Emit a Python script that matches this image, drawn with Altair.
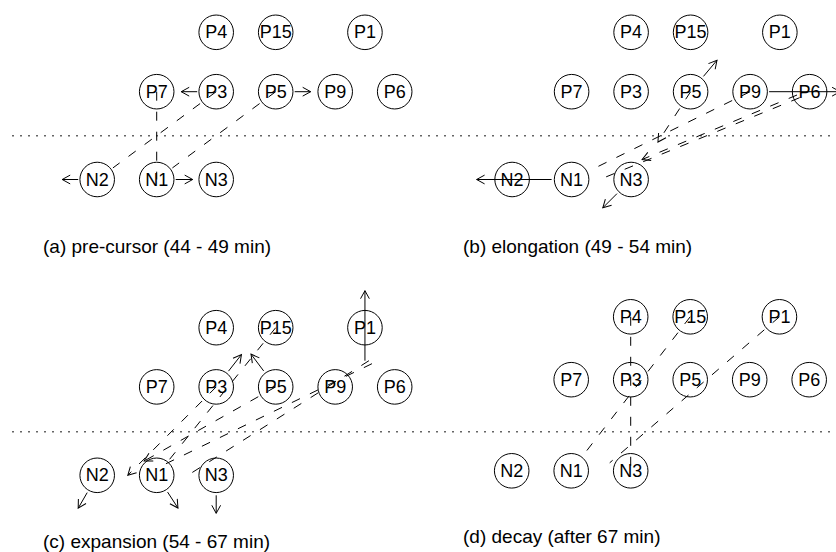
import math
import altair as alt
import pandas as pd

W, H = 836, 552

# ---- nodes: grid column (P7/N1 column = 0) and row (0 = top, 1 = middle, 2 = bottom)
node_names = ["P4", "P15", "P1", "P7", "P3", "P5", "P9", "P6", "N2", "N1", "N3"]
node_cols = [1, 2, 3.5, 0, 1, 2, 3, 4, -1, 0, 1]
node_rows = [0, 0, 0, 1, 1, 1, 1, 1, 2, 2, 2]

panels = ["a", "b", "c", "d"]
captions = [
    "(a) pre-cursor (44 - 49 min)",
    "(b) elongation (49 - 54 min)",
    "(c) expansion (54 - 67 min)",
    "(d) decay (after 67 min)",
]

# ---- links between nodes: (panel, start, end, dashed, arrowhead)
# an end is a node name (centre), (node, "edge") or (node, dx, dy)
links = [
    ("a", "P7", "N1", True, False),
    ("a", "P3", ("N2", "edge"), True, False),
    ("a", "P5", ("N1", "edge"), True, False),
    ("b", "P9", ("N1", "edge"), True, False),
    ("b", ("P6", -12.6, 3.3), ("N3", 11, -20), True, True),
    ("b", ("P6", -10, 6), ("N1", 33, -2), True, False),
    ("c", "P15", ("N1", "edge"), True, False),
    ("c", ("P1", 4, 33), ("N3", -30, 1), True, False),
    ("c", ("P1", 7, 36), ("N1", 6, -10), True, False),
    ("d", "P4", "N3", True, False),
    ("d", "P15", ("N1", "edge"), True, False),
    ("d", "P1", ("N3", -21, -8), True, False),
]

# ---- motion vectors: (panel, node, direction in degrees, from r, to r, dashed, arrowhead)
vectors = [
    ("a", "P3", 180, 19, 35, False, True),
    ("a", "P5", 0, 19, 35, False, True),
    ("a", "N2", 180, 19, 35, False, True),
    ("a", "N1", 0, 19, 36, False, True),
    ("b", "N1", 180, 20, 95, False, True),
    ("b", "N3", 135, 20, 40, False, True),
    ("b", "P5", 310, 20, 41, False, True),
    ("b", "P9", 0, 19, 90, False, True),
    ("b", "P5", 123, 0, 60, True, True),
    ("c", "P1", 270, -33, 37, False, True),
    ("c", "P3", 308, 20, 41, False, True),
    ("c", "P5", 233, 20, 41, False, True),
    ("c", "N2", 120, 20, 38, False, True),
    ("c", "N1", 57, 20, 39, False, True),
    ("c", "N3", 90, 20, 38, False, True),
    ("c", "P3", 135, 0, 125, True, True),
    ("c", "P5", 150.6, 0, 151, True, True),
]

# ---- panel geometry
COL = 59.5
R = 19.5
PANEL_X0 = {"a": 156.7, "b": 571.6, "c": 156.7, "d": 571.2}
PANEL_ROWS = {
    "a": (32.3, 91.7, 179.5),
    "b": (32.3, 91.7, 179.5),
    "c": (327.7, 386.9, 475.3),
    "d": (316.8, 379.7, 470.8),
}
CAPTION_XY = {"a": (43, 247), "b": (463, 247), "c": (43, 542), "d": (463, 537)}
SEPARATOR_Y = [135.7, 431.7]


def node_xy(panel, name):
    i = node_names.index(name)
    return PANEL_X0[panel] + COL * node_cols[i], PANEL_ROWS[panel][node_rows[i]]


def centre(panel, spec):
    return node_xy(panel, spec if isinstance(spec, str) else spec[0])


def endpoint(panel, spec, other):
    if isinstance(spec, str):
        return node_xy(panel, spec)
    cx, cy = node_xy(panel, spec[0])
    if spec[1] == "edge":
        ox, oy = centre(panel, other)
        d = math.hypot(ox - cx, oy - cy)
        return cx + (ox - cx) / d * R, cy + (oy - cy) / d * R
    return cx + spec[1], cy + spec[2]


node_rows_out, line_rows, head_rows = [], [], []
for p in panels:
    for n in node_names:
        x, y = node_xy(p, n)
        node_rows_out.append({"panel": p, "label": n, "x": x, "y": y})

for p, s, e, dashed, head in links:
    x1, y1 = endpoint(p, s, e)
    x2, y2 = endpoint(p, e, s)
    line_rows.append({"x": x1, "y": y1, "x2": x2, "y2": y2, "style": "dashed" if dashed else "solid"})
    if head:
        rot = (math.degrees(math.atan2(y2 - y1, x2 - x1)) + 90) % 360
        head_rows.append({"x": x2, "y": y2, "rot": rot})

for p, n, ang, r0, r1, dashed, head in vectors:
    cx, cy = node_xy(p, n)
    ux, uy = math.cos(math.radians(ang)), math.sin(math.radians(ang))
    line_rows.append({"x": cx + r0 * ux, "y": cy + r0 * uy, "x2": cx + r1 * ux, "y2": cy + r1 * uy,
                      "style": "dashed" if dashed else "solid"})
    if head:
        head_rows.append({"x": cx + r1 * ux, "y": cy + r1 * uy, "rot": (ang + 90) % 360})

nodes_df = pd.DataFrame(node_rows_out)
lines_df = pd.DataFrame(line_rows)
heads_df = pd.DataFrame(head_rows)
captions_df = pd.DataFrame({
    "text": captions,
    "x": [CAPTION_XY[p][0] for p in panels],
    "y": [CAPTION_XY[p][1] for p in panels],
})
sep_df = pd.DataFrame({"x": [12] * len(SEPARATOR_Y), "x2": [W] * len(SEPARATOR_Y), "y": SEPARATOR_Y})

xs = alt.Scale(domain=[0, W], nice=False, zero=False)
ys = alt.Scale(domain=[0, H], nice=False, zero=False, reverse=True)
X = lambda f="x": alt.X(f"{f}:Q", scale=xs, axis=None)
Y = lambda f="y": alt.Y(f"{f}:Q", scale=ys, axis=None)

separators = alt.Chart(sep_df).mark_rule(color="#666666", strokeWidth=1.5, strokeDash=[2, 6]).encode(
    x=X(), x2="x2:Q", y=Y()
)

dashed_lines = alt.Chart(lines_df[lines_df["style"] == "dashed"]).mark_rule(
    color="black", strokeWidth=1, strokeDash=[9, 11]
).encode(x=X(), y=Y(), x2="x2:Q", y2="y2:Q")

solid_lines = alt.Chart(lines_df[lines_df["style"] == "solid"]).mark_rule(
    color="black", strokeWidth=1
).encode(x=X(), y=Y(), x2="x2:Q", y2="y2:Q")

heads = alt.Chart(heads_df).mark_point(
    shape="M-0.55,1L0,0L0.55,1", filled=False, stroke="black", strokeWidth=1, opacity=1, size=256
).encode(x=X(), y=Y(), angle=alt.Angle("rot:Q", scale=None))

circles = alt.Chart(nodes_df).mark_point(
    shape="circle", filled=False, stroke="black", strokeWidth=1, opacity=1, size=math.pi * R * R
).encode(x=X(), y=Y())

labels = alt.Chart(nodes_df).mark_text(
    font="Liberation Sans", fontSize=18, align="center", baseline="middle", color="black", dy=1
).encode(x=X(), y=Y(), text="label:N")

caption_text = alt.Chart(captions_df).mark_text(
    font="Liberation Sans", fontSize=19, align="left", baseline="middle", color="black"
).encode(x=X(), y=Y(), text="text:N")

chart = alt.layer(
    separators, dashed_lines, solid_lines, heads, circles, labels, caption_text
).properties(
    width=W, height=H, autosize="none", padding=0, background="white"
).configure_view(strokeOpacity=0)

chart.save("out.html", embed_options={"renderer": "svg", "actions": False})
